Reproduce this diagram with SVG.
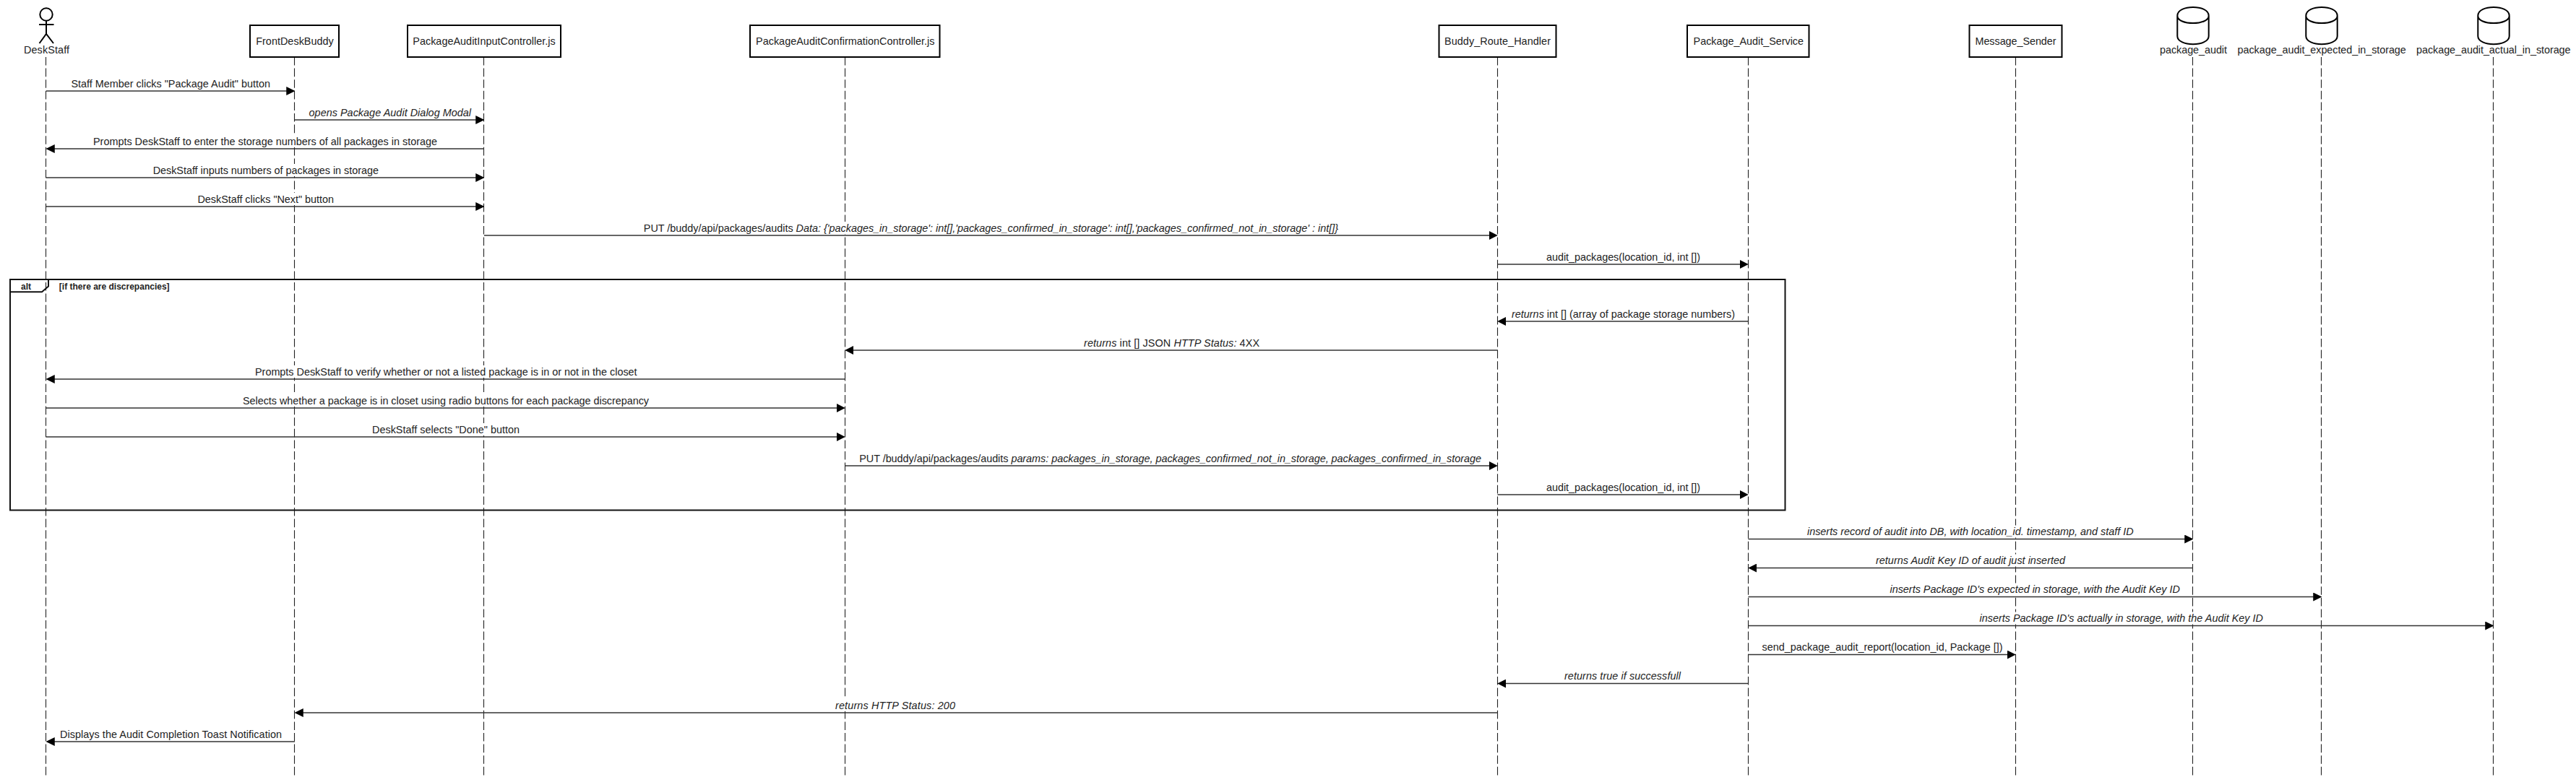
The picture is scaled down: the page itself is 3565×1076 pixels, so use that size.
<svg xmlns="http://www.w3.org/2000/svg" width="3565" height="1076" viewBox="0 0 3565 1076">
<style>
text{font-family:"Liberation Sans",Arial,sans-serif;font-size:14.4px;fill:#222;text-anchor:middle}
.i{font-style:italic}
.life{stroke:#222;stroke-width:1.1;stroke-dasharray:11.6 4;fill:none}
.box{fill:#fff;stroke:#000;stroke-width:2}
.fig{fill:none;stroke:#000;stroke-width:2}
.msg{stroke:#333;stroke-width:1.6;fill:none;marker-end:url(#ah)}
.bg{fill:#fff;stroke:none}
.frame{fill:none;stroke:#111;stroke-width:2}
.ft{font-size:12px;font-weight:bold}
</style>
<defs>
<marker id="ah" markerUnits="userSpaceOnUse" markerWidth="12" markerHeight="12" refX="8" refY="5.5" orient="auto" viewBox="0 0 11 11"><path d="M0 0L11 5.5L0 11Z" fill="#000"/></marker>
</defs>
<rect width="3565" height="1076" fill="#fff"/>
<g id="node-DeskStaff">
<path class="life" d="M63.500 79V1076"/>
<circle class="fig" cx="64" cy="20" r="8.7"/>
<path class="fig" d="M64 29V47M54 34H74.500M54.500 60L64 47L74 60"/>
<text x="64.500" y="74" textLength="63">DeskStaff</text>
</g>
<g id="node-FrontDeskBuddy">
<path class="life" d="M407.500 79V1076"/>
<rect class="box" x="346" y="35" width="123" height="44"/>
<text x="408" y="62" textLength="107.600">FrontDeskBuddy</text>
</g>
<g id="node-PackageAuditInputController">
<path class="life" d="M669.500 79V1076"/>
<rect class="box" x="564" y="35" width="212" height="44"/>
<text x="670" y="62" textLength="197.500">PackageAuditInputController.js</text>
</g>
<g id="node-PackageAuditConfirmationController">
<path class="life" d="M1169.500 79V1076"/>
<rect class="box" x="1038" y="35" width="262.500" height="44"/>
<text x="1169.700" y="62" textLength="247.400">PackageAuditConfirmationController.js</text>
</g>
<g id="node-Buddy_Route_Handler">
<path class="life" d="M2072.500 79V1076"/>
<rect class="box" x="1991.500" y="35" width="162" height="44"/>
<text x="2072.500" y="62" textLength="147">Buddy_Route_Handler</text>
</g>
<g id="node-Package_Audit_Service">
<path class="life" d="M2419.500 79V1076"/>
<rect class="box" x="2335" y="35" width="168.500" height="44"/>
<text x="2419.800" y="62" textLength="152.400">Package_Audit_Service</text>
</g>
<g id="node-Message_Sender">
<path class="life" d="M2789.500 79V1076"/>
<rect class="box" x="2725.500" y="35" width="128" height="44"/>
<text x="2789.500" y="62" textLength="112">Message_Sender</text>
</g>
<g id="node-package_audit">
<path class="life" d="M3034.500 79V1076"/>
<path class="fig" d="M3013.300 21.700C3013.300 6 3056.700 6 3056.700 21.700V50C3056.700 65 3013.300 65 3013.300 50ZM3013.300 21.700C3013.300 35.500 3056.700 35.500 3056.700 21.700"/>
<text x="3035.500" y="74" textLength="93">package_audit</text>
</g>
<g id="node-package_audit_expected_in_storage">
<path class="life" d="M3212.500 79V1076"/>
<path class="fig" d="M3191.300 21.700C3191.300 6 3234.700 6 3234.700 21.700V50C3234.700 65 3191.300 65 3191.300 50ZM3191.300 21.700C3191.300 35.500 3234.700 35.500 3234.700 21.700"/>
<text x="3213.200" y="74" textLength="233.200">package_audit_expected_in_storage</text>
</g>
<g id="node-package_audit_actual_in_storage">
<path class="life" d="M3450.500 79V1076"/>
<path class="fig" d="M3429.300 21.700C3429.300 6 3472.700 6 3472.700 21.700V50C3472.700 65 3429.300 65 3429.300 50ZM3429.300 21.700C3429.300 35.500 3472.700 35.500 3472.700 21.700"/>
<text x="3450.800" y="74" textLength="213.500">package_audit_actual_in_storage</text>
</g>
<g id="frame-alt">
<rect class="frame" x="14" y="387" width="2456.500" height="319.500"/>
<path class="frame" d="M14 404.300H58L67 396.500V387"/>
<text class="ft" x="36" y="400.500">alt</text>
<text class="ft" x="158.200" y="400.500">[if there are discrepancies]</text>
</g>
<g id="connectors">
<path class="msg" d="M64 126H405"/>
<rect class="bg" x="98" y="107" width="276.500" height="17"/>
<text x="236.200" y="120.500" textLength="275.500">Staff Member clicks "Package Audit" button</text>
<path class="msg" d="M408 166H667"/>
<rect class="bg" x="427" y="147" width="225.500" height="17"/>
<text class="i" x="539.800" y="160.500" textLength="224.500">opens Package Audit Dialog Modal</text>
<path class="msg" d="M670 206H67"/>
<rect class="bg" x="128.500" y="187" width="477" height="17"/>
<text x="367" y="200.500" textLength="476">Prompts DeskStaff to enter the storage numbers of all packages in storage</text>
<path class="msg" d="M64 246H667"/>
<rect class="bg" x="211" y="227" width="313.500" height="17"/>
<text x="367.800" y="240.500" textLength="312.300">DeskStaff inputs numbers of packages in storage</text>
<path class="msg" d="M64 286H667"/>
<rect class="bg" x="273" y="267" width="189.500" height="17"/>
<text x="367.700" y="280.500" textLength="188.500">DeskStaff clicks "Next" button</text>
<path class="msg" d="M670 326H2069.500"/>
<rect class="bg" x="890" y="307" width="962.500" height="17"/>
<text x="1371.400" y="320.500" textLength="961.200">PUT /buddy/api/packages/audits <tspan class="i">Data: {'packages_in_storage': int[],'packages_confirmed_in_storage': int[],'packages_confirmed_not_in_storage' : int[]}</tspan></text>
<path class="msg" d="M2072.500 366H2416.500"/>
<rect class="bg" x="2139.500" y="347" width="214" height="17"/>
<text x="2246.500" y="360.500" textLength="213">audit_packages(location_id, int [])</text>
<path class="msg" d="M2419.500 445H2075.500"/>
<rect class="bg" x="2091.500" y="426" width="310" height="17"/>
<text x="2246.500" y="439.500" textLength="309"><tspan class="i">returns</tspan> int [] (array of package storage numbers)</text>
<path class="msg" d="M2072.500 485H1172.500"/>
<rect class="bg" x="1499.500" y="466" width="244" height="17"/>
<text x="1621.500" y="479.500" textLength="243"><tspan class="i">returns</tspan> int [] JSON <tspan class="i">HTTP Status:</tspan> 4XX</text>
<path class="msg" d="M1169.500 525H67"/>
<rect class="bg" x="352.500" y="506" width="529.500" height="17"/>
<text x="617.300" y="519.500" textLength="528.600">Prompts DeskStaff to verify whether or not a listed package is in or not in the closet</text>
<path class="msg" d="M64 565H1166.500"/>
<rect class="bg" x="335.500" y="546" width="563" height="17"/>
<text x="617" y="559.500" textLength="562">Selects whether a package is in closet using radio buttons for each package discrepancy</text>
<path class="msg" d="M64 605H1166.500"/>
<rect class="bg" x="514.500" y="586" width="205" height="17"/>
<text x="617" y="599.500" textLength="204">DeskStaff selects "Done" button</text>
<path class="msg" d="M1169.500 645H2069.500"/>
<rect class="bg" x="1188.500" y="626" width="862" height="17"/>
<text x="1619.600" y="639.500" textLength="860.700">PUT /buddy/api/packages/audits <tspan class="i">params: packages_in_storage, packages_confirmed_not_in_storage, packages_confirmed_in_storage</tspan></text>
<path class="msg" d="M2072.500 685H2416.500"/>
<rect class="bg" x="2139.500" y="666" width="214" height="17"/>
<text x="2246.500" y="679.500" textLength="213">audit_packages(location_id, int [])</text>
<path class="msg" d="M2419.500 746.500H3032"/>
<rect class="bg" x="2500.500" y="727.500" width="453" height="17"/>
<text class="i" x="2726.800" y="741" textLength="451.700">inserts record of audit into DB, with location_id. timestamp, and staff ID</text>
<path class="msg" d="M3035 786.500H2422.500"/>
<rect class="bg" x="2595.500" y="767.500" width="263" height="17"/>
<text class="i" x="2727" y="781" textLength="262">returns Audit Key ID of audit just inserted</text>
<path class="msg" d="M2419.500 826.500H3210"/>
<rect class="bg" x="2615" y="807.500" width="402.500" height="17"/>
<text class="i" x="2816.200" y="821" textLength="401.500">inserts Package ID's expected in storage, with the Audit Key ID</text>
<path class="msg" d="M2419.500 866.500H3448"/>
<rect class="bg" x="2739" y="847.500" width="393.500" height="17"/>
<text class="i" x="2935.700" y="861" textLength="392.500">inserts Package ID's actually in storage, with the Audit Key ID</text>
<path class="msg" d="M2419.500 906.500H2786.500"/>
<rect class="bg" x="2438" y="887.500" width="334" height="17"/>
<text x="2605" y="901" textLength="333">send_package_audit_report(location_id, Package [])</text>
<path class="msg" d="M2419.500 946.500H2075.500"/>
<rect class="bg" x="2164.500" y="927.500" width="162" height="17"/>
<text class="i" x="2245.500" y="941" textLength="161">returns true if successfull</text>
<path class="msg" d="M2072.500 987H411"/>
<rect class="bg" x="1155.500" y="968" width="167" height="17"/>
<text class="i" x="1239" y="981.500" textLength="166">returns HTTP Status: 200</text>
<path class="msg" d="M408 1027H67"/>
<rect class="bg" x="82.500" y="1008" width="308" height="17"/>
<text x="236.500" y="1021.500" textLength="307">Displays the Audit Completion Toast Notification</text>
</g>
</svg>
